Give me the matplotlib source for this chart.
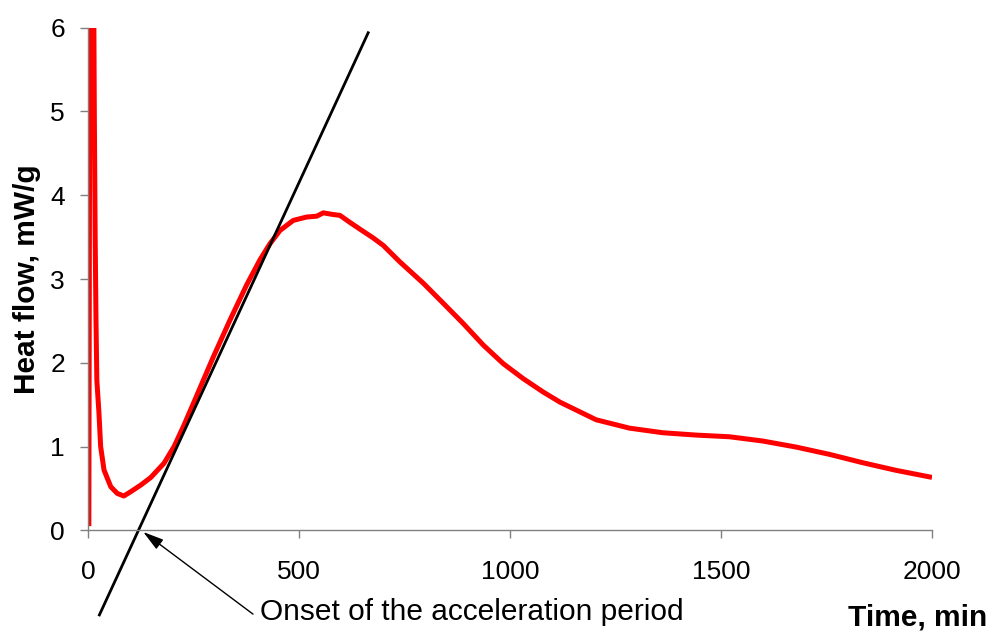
"""Isothermal calorimetry curve with tangent marking the onset of acceleration."""

import matplotlib
matplotlib.use("Agg")
import matplotlib.pyplot as plt

# heat flow curve (time in min, heat flow in mW/g)
time_min = [2, 4.7, 13, 15, 17, 19, 21, 26, 30, 38, 54, 69.5, 85, 101, 125,
            148.6, 180, 204, 227, 253.6, 297, 336.5, 376, 407.6, 431, 455,
            486.5, 518, 542, 557.6, 581, 597, 621, 644.5, 676, 700, 739, 794.6,
            842, 889, 937, 984, 1031.6, 1079, 1118.6, 1204, 1283, 1362, 1441,
            1520, 1599, 1678, 1757, 1836, 1915, 2000]
heat_flow = [0.05, 7.0, 7.0, 5.0, 3.5, 2.5, 1.79, 1.4, 1.0, 0.72, 0.52, 0.44,
             0.41, 0.46, 0.54, 0.63, 0.80, 1.0, 1.25, 1.56, 2.07, 2.51, 2.93,
             3.23, 3.42, 3.58, 3.70, 3.74, 3.75, 3.79, 3.77, 3.76, 3.675, 3.595,
             3.49, 3.40, 3.205, 2.95, 2.71, 2.47, 2.21, 1.99, 1.81, 1.65, 1.53,
             1.32, 1.22, 1.165, 1.137, 1.117, 1.066, 0.994, 0.907, 0.807,
             0.716, 0.632]

# tangent to the acceleration slope
tangent_t = [27, 664]
tangent_q = [-1.01, 5.94]

onset_label = "Onset of the acceleration period"
onset_xy = (131, -0.02)
label_xy = (391, -1.0)
text_xy = (408, -0.975)

x_ticks = [0, 500, 1000, 1500, 2000]
y_ticks = [0, 1, 2, 3, 4, 5, 6]

plt.rcParams["font.family"] = ["Liberation Sans", "DejaVu Sans"]

fig = plt.figure(figsize=(9.92, 6.33), dpi=100)
ax = fig.add_axes([0.0887, 0.1622, 0.8508, 0.794])

ax.plot(time_min, heat_flow, color="#ff0000", lw=3.6,
        solid_joinstyle="round", solid_capstyle="butt")
ax.plot(tangent_t, tangent_q, color="black", lw=2.0, clip_on=False)

ax.annotate("", xy=onset_xy, xytext=label_xy, annotation_clip=False,
            arrowprops=dict(arrowstyle="-|>,head_length=0.7,head_width=0.2",
                            color="black", lw=1.0, shrinkA=0, shrinkB=0,
                            mutation_scale=18))
ax.text(text_xy[0], text_xy[1], onset_label, fontsize=21.5,
        ha="left", va="center", clip_on=False)

ax.set_xlim(0, 2000)
ax.set_ylim(0, 6)
ax.set_xticks(x_ticks)
ax.set_yticks(y_ticks)

for side in ("top", "right"):
    ax.spines[side].set_visible(False)
for side in ("left", "bottom"):
    ax.spines[side].set_color("#808080")
    ax.spines[side].set_linewidth(1.0)

ax.tick_params(axis="both", direction="out", length=5.5, width=1.0,
               color="#808080", labelsize=19)
ax.tick_params(axis="x", pad=16)
ax.tick_params(axis="y", pad=11)

ax.set_ylabel("Heat flow, mW/g", fontsize=21.5, fontweight="bold")
ax.set_xlabel("Time, min", fontsize=21.5, fontweight="bold",
              ha="right", va="center")
ax.yaxis.set_label_coords(-0.056, 0.5)
ax.xaxis.set_label_coords(1.066, -0.1725)

fig.savefig("out.png", dpi=100)
